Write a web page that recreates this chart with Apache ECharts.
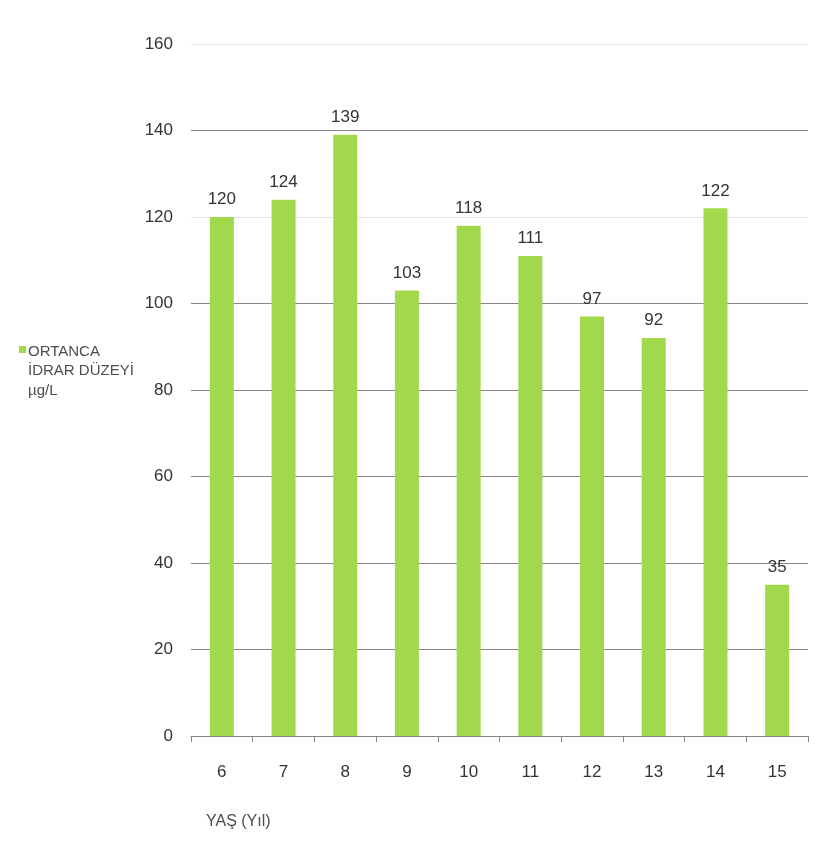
<!DOCTYPE html>
<html>
<head>
<meta charset="utf-8">
<title>Ortanca idrar düzeyi</title>
<script src="https://cdn.jsdelivr.net/npm/echarts@6/dist/echarts.min.js"></script>
<style>
  html, body { margin: 0; padding: 0; background: #ffffff; }
  #chart { width: 824px; height: 863px; }
</style>
</head>
<body>
<div id="chart"></div>
<script>
// Age groups (years) and median urinary iodine level (µg/L)
const ages = ['6', '7', '8', '9', '10', '11', '12', '13', '14', '15'];
const medianLevels = [120, 124, 139, 103, 118, 111, 97, 92, 122, 35];
const seriesName = 'ORTANCA İDRAR DÜZEYİ µg/L';
const legendLines = ['ORTANCA', 'İDRAR DÜZEYİ', 'µg/L'];
const xAxisTitle = 'YAŞ (Yıl)';

const FONT = '"Liberation Sans", Arial, sans-serif';
const BAR = '#a2d94c';

// one colour per split line from 0 upward; 120 and 160 are drawn pale
const gridColors = ['#8a8290', '#8a8290', '#8a8290', '#8a8290', '#8a8290',
                    '#8a8290', '#e4e4e4', '#8a8290', '#e8e8e8'];

const chart = echarts.init(document.getElementById('chart'), null, { renderer: 'canvas' });

chart.setOption({
  backgroundColor: '#ffffff',
  animation: false,
  textStyle: { fontFamily: FONT },
  grid: { left: 191, right: 16, top: 44, bottom: 127, containLabel: false },
  graphic: [
    {
      type: 'rect',
      left: 19, top: 346,
      shape: { width: 7, height: 7 },
      style: { fill: BAR }
    },
    {
      type: 'text',
      left: 28, top: 342,
      style: {
        text: legendLines.join('\n'),
        font: '15px ' + FONT,
        fill: '#4d4d4d',
        lineHeight: 19.5
      }
    },
    {
      type: 'text',
      left: 206, top: 814,
      style: {
        text: xAxisTitle,
        font: '16px ' + FONT,
        fill: '#4d4d4d'
      }
    }
  ],
  xAxis: {
    type: 'category',
    data: ages,
    axisLine: { lineStyle: { color: '#8a8290', width: 1 } },
    axisTick: { show: true, alignWithLabel: false, length: 6, lineStyle: { color: '#8a8290' } },
    axisLabel: { color: '#333333', fontSize: 17, margin: 28, fontFamily: FONT }
  },
  yAxis: {
    type: 'value',
    min: 0,
    max: 160,
    interval: 20,
    axisLine: { show: false },
    axisTick: { show: false },
    axisLabel: { color: '#333333', fontSize: 17, margin: 18, fontFamily: FONT },
    splitLine: { show: true, lineStyle: { color: gridColors, width: 1 } }
  },
  series: [{
    name: seriesName,
    type: 'bar',
    data: medianLevels,
    barWidth: 24,
    itemStyle: { color: BAR },
    label: {
      show: true,
      position: 'top',
      distance: 9,
      color: '#333333',
      fontSize: 17,
      fontFamily: FONT
    }
  }]
});
</script>
</body>
</html>
